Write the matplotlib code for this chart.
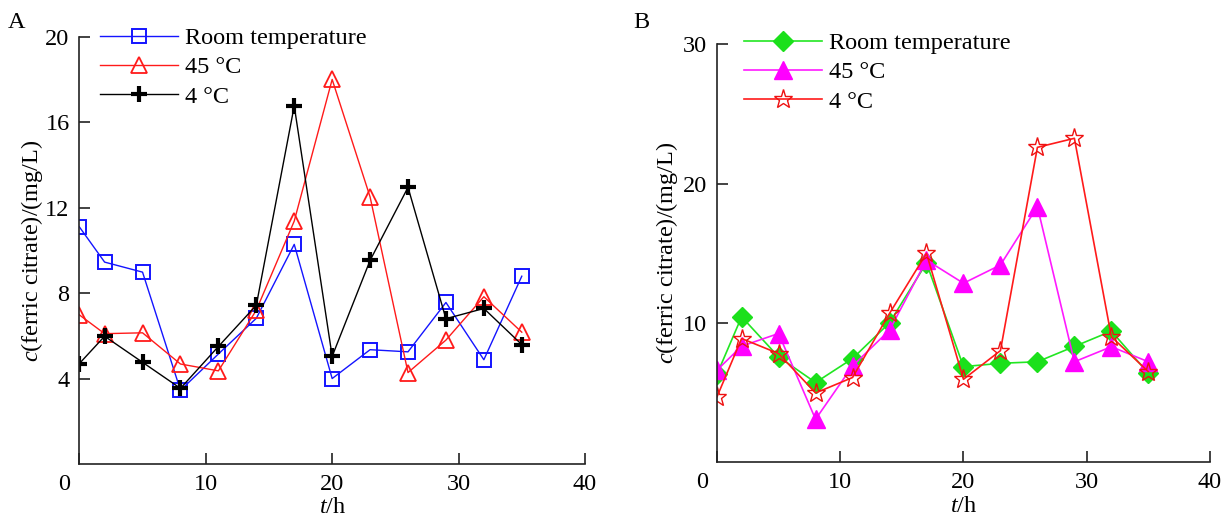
import matplotlib
matplotlib.use("Agg")
import matplotlib.pyplot as plt
import matplotlib.transforms as mtransforms

plt.rcParams['font.family'] = ['Liberation Serif', 'DejaVu Serif']
plt.rcParams['mathtext.fontset'] = 'custom'
plt.rcParams['mathtext.rm'] = 'Liberation Serif'
plt.rcParams['mathtext.it'] = 'Liberation Serif:italic'

# Sampling times (h)
hours = [0, 2, 5, 8, 11, 14, 17, 20, 23, 26, 29, 32, 35]

# Panel A
a_room = [11.1, 9.45, 8.98, 3.45, 5.15, 6.82, 10.28, 4.0, 5.35, 5.25, 7.56, 4.88, 8.79]
a_45 = [6.98, 6.1, 6.14, 4.68, 4.36, 7.2, 11.37, 18.0, 12.5, 4.28, 5.8, 7.83, 6.17]
a_4 = [4.7, 5.98, 4.76, 3.54, 5.5, 7.43, 16.76, 5.04, 9.53, 12.95, 6.8, 7.28, 5.59]

# Panel B
b_room = [6.3, 10.43, 7.55, 5.71, 7.43, 10.0, 14.3, 6.85, 7.09, 7.2, 8.3, 9.4, 6.37]
b_45 = [6.6, 8.32, 9.23, 3.07, 6.9, 9.47, 14.5, 12.84, 14.15, 18.34, 7.2, 8.28, 7.2]
b_4 = [4.68, 8.87, 7.79, 4.96, 6.07, 10.67, 14.99, 5.94, 8.0, 22.6, 23.25, 9.0, 6.49]

labels = ['Room temperature', '45 \u00b0C', '4 \u00b0C']

FS = 17.5
fig = plt.figure(figsize=(12.3, 5.2), dpi=100)
axA = fig.add_axes([0.0645, 0.1077, 0.4111, 0.8217])
axB = fig.add_axes([0.5829, 0.1115, 0.4008, 0.8033])

lw = 1.0
axA.plot(hours, a_room, color='#1414ff', lw=lw, marker='s', ms=10, mfc='none',
         mec='#1414ff', mew=1.4, label=labels[0])
axA.plot(hours, a_45, color='#ff1a1a', lw=lw, marker='^', ms=11, mfc='none',
         mec='#ff1a1a', mew=1.3, label=labels[1])
axA.plot(hours, a_4, color='black', lw=lw, marker='+', ms=11, mew=3,
         label=labels[2])

axB.plot(hours, b_room, color='#22e622', lw=1.2, marker='D', ms=10.5,
         mfc='#1be01b', mec='#1be01b', label=labels[0])
axB.plot(hours, b_45, color='#ff1aff', lw=1.2, marker='^', ms=13,
         mfc='#ff00ff', mec='#ff00ff', label=labels[1])
axB.plot(hours, b_4, color='#ff1a1a', lw=1.2, marker='*', ms=14, mfc='none',
         mec='#ee1111', mew=1.0, label=labels[2])


def style(ax, ymax, yticks, ylabelpad):
    ax.set_xlim(0, 40)
    ax.set_ylim(0, ymax)
    ax.set_xticks([0, 10, 20, 30, 40])
    ax.set_yticks(yticks)
    for side in ('top', 'right'):
        ax.spines[side].set_visible(False)
    for side in ('left', 'bottom'):
        ax.spines[side].set_linewidth(1.2)
        ax.spines[side].set_color('#222222')
    ax.tick_params(direction='in', length=8, width=1.2, color='#222222',
                   labelsize=FS, pad=7)
    ax.set_xlabel(r'$\mathit{t}$/h', fontsize=FS, labelpad=2)
    ax.set_ylabel(r'$\mathit{c}$(ferric citrate)/(mg/L)', fontsize=FS,
                  labelpad=ylabelpad)
    # nudge the origin label left of the corner
    shift = mtransforms.ScaledTranslation(-0.15, 0, fig.dpi_scale_trans)
    lab0 = ax.get_xticklabels()[0]
    lab0.set_transform(lab0.get_transform() + shift)


style(axA, 20, [4, 8, 12, 16, 20], 0)
style(axB, 30, [10, 20, 30], 2)

legend_kw = dict(loc='upper left', bbox_transform=fig.transFigure,
                 frameon=False, fontsize=FS, handlelength=3.2,
                 handletextpad=0.3, labelspacing=0.3, borderpad=0,
                 borderaxespad=0)
axA.legend(bbox_to_anchor=(100 / 1230, 1 - 27 / 520), **legend_kw)
axB.legend(bbox_to_anchor=(744 / 1230, 1 - 32 / 520), **legend_kw)

fig.text(8 / 1230, 1 - 22 / 520, 'A', fontsize=FS, va='center', ha='left')
fig.text(633 / 1230, 1 - 22 / 520, 'B', fontsize=FS, va='center', ha='left')

fig.savefig('out.png', dpi=100)
